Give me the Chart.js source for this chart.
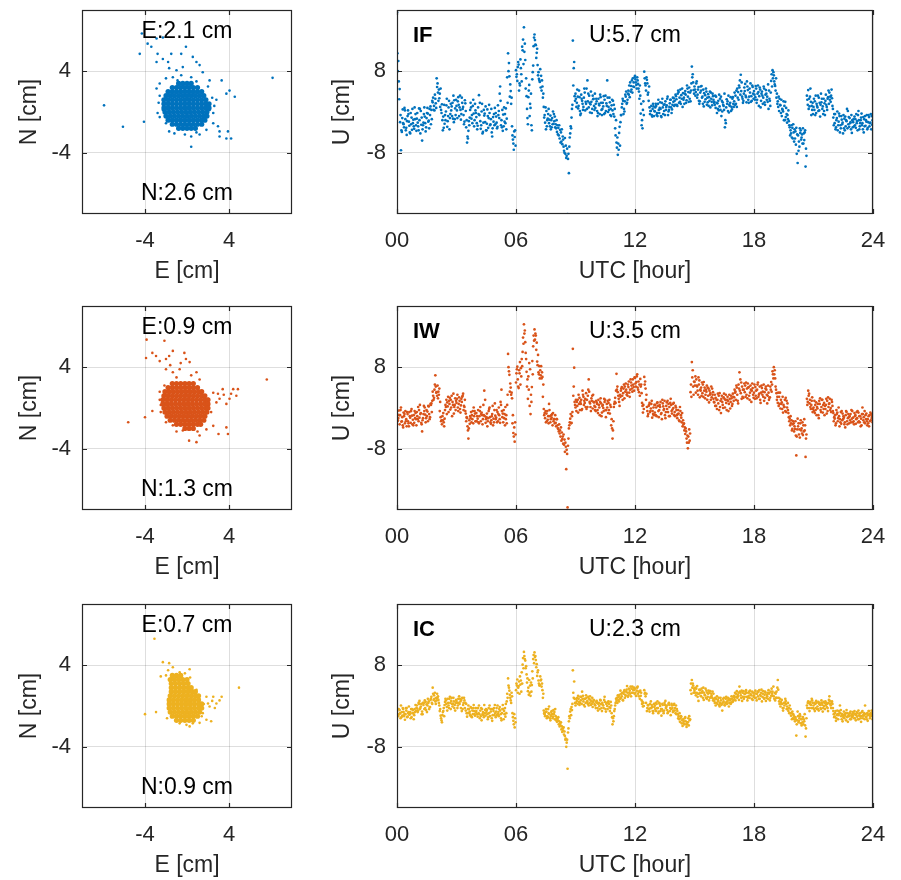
<!DOCTYPE html>
<html>
<head>
<meta charset="utf-8">
<script src="https://cdn.jsdelivr.net/npm/chart.js@4"></script>
<style>
  body { margin: 0; background: #fff; }
  #fig { position: relative; width: 901px; height: 880px; overflow: hidden; }
  #fig canvas { position: absolute; }
</style>
</head>
<body>
<div id="fig"></div>
<script>
// solutions, colours and RMS values printed in each panel
const solutions = ['IF', 'IW', 'IC'];
const colors = ['#0072BD', '#D95319', '#EDB120'];
const eRms = [2.1, 0.9, 0.7];
const nRms = [2.6, 1.3, 0.9];
const uRms = [5.7, 3.5, 2.3];

// axis ticks
const enTicks = [-4, 4];
const uTicks = [-8, 8];
const hourTicks = [0, 6, 12, 18, 24];
const samplesPerHour = 15; // each row: one value every 4 min; b and c rows fill in between

// Up component [cm], one row per hour
const upIF = [
  [19.5, 10, 4.5, -7.5, -1.2, -2.4, 0.3, -3.1, -0.8, -1.9, -4.2, -1.1, -2.2, -3.3, -0.4],
  [-1.3, -2.8, -1.6, 0.2, -5.6, -2.1, -0.9, -3.0, 0.8, -1.7, -0.6, 0.4, 1.9, 1.2, 2.6],
  [6.6, 3.8, 2.7, 4.6, 1.5, -0.9, -2.3, 0.1, -2.9, 0.9, -1.2, 0.3, 1.8, -2.0, 0.7],
  [1.2, 2.1, -0.8, 0.4, 2.8, 1.0, -1.9, 0.2, -6.0, -3.7, -1.1, 0.9, -2.2, -0.3, 1.6],
  [-1.0, -2.7, 3.3, -1.8, 0.1, -3.9, -0.7, 1.1, -2.3, -3.1, -0.2, -1.4, -4.8, -1.9, 0.8],
  [-0.9, -2.9, 0.2, 5.0, -1.6, -3.7, 0.9, -2.2, -1.3, 11.5, 7.0, 4.1, -2.8, -6.2, -4.9],
  [8.2, 6.1, 9.3, 5.2, 7.4, 12.1, 16.6, 10.2, 3.1, -2.4, 5.3, 0.8, -3.6, 9.1, 15.2],
  [13.1, 12.4, 7.8, 5.9, 7.1, 5.0, 1.0, -2.1, 0.2, -1.3, -2.2, -0.7, -3.0, 0.1, -1.8],
  [-2.4, -3.9, -3.1, -5.2, -4.0, -6.3, -6.8, -5.1, -9.0, -20, -12.0, -4.2, -1.1, 14.0, 9.8],
  [3.6, 1.8, 0.7, 2.9, -0.3, 2.2, 1.0, 3.8, 1.6, 6.2, 0.9, -0.1, 2.0, 3.2, 1.2],
  [0.8, 2.1, -0.2, 1.3, 2.9, -0.6, 1.1, 2.4, 0.2, 6.2, 1.0, 1.9, -0.8, 0.3, 1.4],
  [-3.2, -6.0, -8.4, -4.1, -2.0, 0.9, 2.2, 0.1, 3.0, 1.8, 4.2, 2.9, 5.1, 3.8, 5.8],
  [7.1, 5.3, 6.2, 4.0, 3.2, -2.6, 0.4, 7.9, 5.2, 6.3, 3.8, 0.9, 0.2, -0.9, 1.1],
  [0.1, 1.2, -0.8, 0.4, 1.9, -1.0, 0.9, 0.2, 2.1, 1.3, -0.6, 1.0, 2.4, 0.5, 2.0],
  [2.2, 3.1, 1.2, 3.9, 2.0, 3.3, 1.0, 2.8, 4.1, 2.3, 3.0, 4.8, 2.1, 8.9, 5.8],
  [5.0, 3.9, 2.8, 4.9, 2.1, 4.2, 3.0, 1.1, 3.3, 4.0, 1.9, 2.9, 0.9, 2.0, 3.1],
  [2.0, 0.8, -0.2, 2.2, 1.1, 3.0, 0.1, 1.2, -3.0, 0.9, 2.1, -0.1, 1.8, 1.0, 2.9],
  [2.1, 3.2, 1.0, 3.9, 4.8, 7.3, 3.0, 2.2, 4.1, 2.9, 5.0, 1.8, 3.8, 3.1, 4.9],
  [4.1, 2.9, 1.8, 5.2, 3.1, 0.9, 4.0, 2.8, 1.9, 4.3, 3.0, 0.6, 2.2, 6.1, 8.2],
  [7.2, 5.1, 2.8, 2.1, 0.2, 1.3, -0.8, 0.1, 1.2, -1.0, -2.1, 0.3, -3.0, -4.2, -3.1],
  [-4.0, -5.2, -3.1, -10.0, -5.8, -4.1, -5.0, -3.2, -5.5, -10.7, 3.2, 4.3, 1.1, 2.0, 0.4],
  [1.0, 2.1, -0.2, 0.9, 2.8, -0.9, 1.9, 1.1, 0.2, 2.2, 1.0, 2.9, 3.8, 2.0, 2.7],
  [-1.1, -2.2, -3.0, 0.1, -1.9, -4.0, -0.8, -2.1, -3.2, -0.9, -1.8, 0.2, -2.9, -2.0, -4.1],
  [-2.0, -0.9, -3.1, -1.8, 0.2, -2.8, -1.1, -2.2, -4.0, -0.8, -1.9, -3.1, -1.0, -2.1, -0.8]
];
const upIFb = [
  [11.5, 6.0, -2.0, -3.6, 0.5, -3.0, -1.4, -4.5, 0.3, -2.7, -0.2, -3.5, -1.5, 0.9, -2.6],
  [-0.2, -3.6, 0.6, -2.5, -3.4, -0.4, -2.2, -1.2, -0.3, -3.2, 1.1, -1.4, 2.8, 0.3, 1.7],
  [4.9, 2.2, 3.6, 0.4, -1.6, -3.1, -0.6, 1.3, -1.8, 2.2, -0.4, 1.1, -1.3, 2.3, -0.6],
  [0.3, 2.9, 0.9, -1.5, 1.8, -0.6, 2.3, -3.0, -4.8, -1.8, 0.4, -1.3, 1.2, -2.8, 0.3],
  [-2.2, 0.9, -0.6, -3.3, 1.6, -2.1, -0.3, -3.6, 0.5, -1.2, -2.6, 0.6, -3.2, -0.4, -2.4],
  [-2.1, 1.3, -1.2, 2.2, -3.0, -0.5, -1.9, 0.7, 6.8, 8.0, 3.0, 1.6, -4.6, -7.4, -3.6],
  [6.9, 8.8, 4.2, 10.3, 6.0, 14.2, 11.8, 4.6, 0.6, 2.9, -0.8, 3.6, 6.4, 12.9, 14.1],
  [10.6, 9.2, 6.5, 8.4, 4.2, 2.8, -1.1, 0.9, -2.8, -0.4, -1.5, -3.4, -1.2, -2.3, -0.9],
  [-3.2, -2.6, -4.6, -3.5, -5.8, -4.8, -7.6, -8.2, -8.6, -9.2, -6.8, -2.8, 0.6, 5.2, 3.1],
  [2.6, 4.4, 1.2, 0.2, 3.4, 1.6, 2.8, 0.3, 4.6, 2.1, 3.2, 1.5, -0.2, 2.5, 0.4],
  [1.6, 0.2, 2.6, -0.4, 1.8, 0.6, 3.1, -0.2, 1.7, 2.8, 0.4, -0.6, 1.3, 2.2, -0.9],
  [-4.6, -7.0, -6.2, -2.9, -0.6, 1.6, -0.4, 2.1, 4.0, 2.4, 3.4, 5.8, 4.4, 6.6, 4.9],
  [6.4, 4.6, 5.5, 2.6, -0.3, -1.6, 2.1, 6.6, 4.2, 5.6, 2.2, -0.4, 1.2, 0.6, -0.8],
  [0.9, -0.6, 1.6, -0.2, 0.6, 1.8, -0.4, 1.5, 0.4, 2.6, 0.1, 1.7, 0.9, 1.4, 2.7],
  [1.4, 2.5, 3.6, 1.8, 4.4, 2.6, 3.7, 1.6, 3.4, 5.2, 3.9, 2.6, 4.2, 6.8, 4.3],
  [4.4, 5.6, 3.4, 2.2, 3.8, 5.1, 1.6, 3.7, 2.5, 1.4, 3.5, 2.2, 3.8, 1.3, 2.4],
  [1.4, 3.0, 1.7, 0.3, 2.6, -0.8, 1.9, 0.4, -1.6, 2.5, 0.2, 1.4, 2.9, 0.5, 1.6],
  [3.8, 1.6, 4.6, 2.4, 6.2, 4.1, 2.6, 3.6, 5.5, 1.9, 4.3, 3.0, 5.6, 2.2, 3.6],
  [3.4, 5.1, 2.4, 3.9, 4.8, 2.2, 3.2, 5.0, 1.4, 3.6, 2.0, 4.2, 1.2, 7.4, 6.6],
  [6.0, 4.2, 3.6, 1.0, 2.6, -0.2, 0.6, 2.1, -1.6, 0.8, -0.6, -1.8, -4.6, -2.6, -5.2],
  [-5.8, -3.8, -8.2, -4.6, -6.8, -3.6, -4.4, -6.2, -4.0, -7.2, 2.4, 0.6, 3.0, -0.6, 1.8],
  [2.6, -0.6, 1.6, 3.2, 0.3, 1.4, 2.6, -0.4, 1.7, 3.4, 0.4, 4.2, 2.4, 3.2, 1.2],
  [-2.6, -0.4, -1.6, -3.6, -0.3, -2.6, -1.5, -4.2, -1.3, -2.8, 0.6, -2.4, -1.2, -3.4, -1.6],
  [-1.4, -2.6, -0.4, -3.6, -1.6, -2.2, -0.3, -3.4, -1.4, -2.7, -0.6, -2.0, -2.8, -0.4, -2.5]
];
const upIFc = [
  [8.0, 2.5, -0.6, -3.9, -2.2, 0.8, -3.6, -1.8, -0.4, -4.0, -2.4, 0.6, -2.8, -1.4, -3.7],
  [-2.1, 0.7, -4.2, -1.1, -2.6, 0.9, -3.8, -0.2, -1.9, 0.6, -2.4, 2.2, 0.4, 3.4, 0.8],
  [5.6, 4.4, 1.0, -0.2, -3.6, 1.4, -1.6, 2.6, -0.8, -3.4, 1.6, -0.8, 3.2, -1.4, 2.4],
  [-1.2, 1.4, 3.2, -0.4, 0.6, -2.4, 1.7, -1.6, -5.2, -2.6, 1.8, -0.6, 2.4, -1.6, -0.2],
  [-3.4, -0.4, 1.8, -2.6, -4.2, 0.4, -2.0, -3.6, -0.8, 1.4, -2.4, -4.0, -1.0, -2.6, -0.2],
  [-3.2, -0.6, 3.6, -2.6, 0.4, -2.8, -0.4, -3.4, 1.8, 9.6, 5.4, 2.8, -5.4, -3.8, -6.6],
  [7.4, 9.8, 5.6, 8.6, 12.8, 9.4, 13.4, 6.6, -1.2, 4.2, 1.6, -2.6, 7.8, 14.6, 13.2],
  [11.6, 7.2, 6.2, 4.8, 6.2, 3.6, -0.6, -3.4, -1.6, 0.6, -2.8, -1.6, -2.4, -0.4, -3.0],
  [-1.6, -4.4, -2.6, -6.0, -3.4, -5.4, -8.0, -6.6, -7.2, -8.2, -5.0, -3.2, 1.4, 8.6, 2.2],
  [1.0, 3.0, 4.2, -0.6, 2.6, 0.4, 4.6, 2.0, 0.6, 3.6, 1.8, 4.0, 0.6, 2.6, 3.6],
  [2.6, -0.8, 1.6, 3.4, 0.4, 1.8, -0.4, 3.2, 1.2, 0.0, 2.8, 0.6, 2.4, -0.4, 0.6],
  [-1.6, -5.0, -7.4, -6.6, -0.6, 2.6, 0.6, 3.4, 1.6, 3.6, 5.2, 4.0, 6.2, 5.0, 6.8],
  [5.8, 6.8, 4.6, 5.2, 1.6, -3.2, -0.6, 5.6, 6.8, 3.4, 5.0, 0.2, -0.6, 1.6, 0.2],
  [1.6, -0.2, 2.4, 0.8, -0.8, 2.6, 1.4, -0.6, 1.0, 3.0, 0.4, 2.4, -0.2, 2.8, 1.2],
  [3.4, 1.4, 4.2, 2.8, 1.6, 4.6, 2.4, 3.6, 1.8, 4.6, 2.0, 3.8, 5.6, 7.4, 3.6],
  [3.2, 6.0, 4.4, 1.6, 5.0, 2.8, 4.4, 2.0, 4.6, 2.8, 1.2, 4.0, 2.6, 3.6, 1.8],
  [3.2, 1.8, 0.6, 3.4, 0.4, 2.2, 1.4, 3.6, -2.2, 1.6, 3.2, 1.2, 0.2, 2.6, 1.0],
  [1.4, 4.2, 2.8, 5.2, 3.4, 5.8, 1.8, 4.8, 3.2, 6.0, 2.4, 4.6, 2.0, 5.2, 2.6],
  [2.4, 4.6, 3.6, 1.2, 4.4, 3.6, 1.6, 4.6, 3.4, 2.4, 5.4, 2.6, 3.8, 5.0, 7.8],
  [5.4, 6.6, 1.6, 3.0, 1.4, 2.4, 0.4, -1.6, 2.0, -0.4, -1.4, -2.6, -3.6, -5.0, -2.4],
  [-3.4, -6.4, -4.4, -7.6, -3.2, -5.4, -6.2, -4.2, -3.6, -8.6, 1.4, 2.6, 4.6, 1.2, -0.4],
  [0.4, 3.2, 1.2, 0.2, 1.8, 3.6, 0.6, 2.6, -0.6, 1.4, 2.6, 1.6, 3.0, 4.4, 0.6],
  [-0.4, -3.4, -1.2, -2.6, -0.8, -3.2, -2.4, -0.6, -3.6, -1.6, -3.2, -1.0, -2.2, -0.6, -3.0],
  [-2.8, -1.4, -2.2, -0.6, -3.4, -1.6, -2.6, -1.0, -2.8, -1.6, -3.4, -0.6, -2.2, -3.4, -1.6]
];
const upIW = [
  [-1.1, -2.0, -3.2, 0.1, -1.8, -0.9, -3.0, -2.2, -1.2, -3.6, -1.9, -0.2, -2.3, -2.9, -1.0],
  [-0.8, 0.2, -1.9, -1.0, -4.6, -1.2, 0.1, -2.0, -0.7, 0.3, -1.8, 0.9, 3.2, 2.0, 6.4],
  [3.1, 1.9, 3.8, -1.8, -3.2, -1.0, -2.1, 0.2, 1.1, -0.8, 2.0, 0.1, 1.2, -1.1, 1.9],
  [1.0, 0.1, 2.1, -0.9, 1.2, 2.8, 0.2, -1.1, -2.0, -6.0, -3.1, -0.8, -2.2, 0.1, -1.1],
  [-1.0, -2.1, -3.0, 0.2, -0.9, -2.2, 3.4, -2.9, -1.1, -2.0, 0.1, -3.1, -1.2, -2.1, 0.9],
  [-1.9, -0.8, 0.1, -2.9, 3.6, -1.1, -2.0, 0.2, -3.0, 10.6, 6.5, 4.0, 1.9, -4.9, -6.6],
  [5.0, 8.1, 3.9, 9.0, 6.2, 11.0, 16.4, 12.9, 7.1, 1.8, 8.8, -1.2, 4.1, 12.1, 15.4],
  [14.2, 9.1, 7.0, 5.8, 8.2, 6.1, -0.2, -2.0, -1.1, -2.3, 0.8, -2.8, -1.9, -1.0, -2.2],
  [-2.9, -2.2, -4.1, -5.0, -3.8, -6.1, -5.2, -8.6, -12.0, -19.5, -4.0, -2.1, -2.9, 11.6, 7.9],
  [0.1, 1.2, -0.9, 2.0, 0.8, -0.2, 2.2, 1.0, 2.9, 0.2, 5.6, 0.9, 1.9, -0.1, 1.1],
  [0.2, 1.1, -1.0, 0.1, 1.9, -0.9, 0.0, 1.2, -1.8, 0.1, 1.0, -1.1, -3.4, -6.0, 0.2],
  [2.0, 6.7, 3.1, 1.2, 2.2, 4.1, 2.9, 1.9, 4.8, 3.0, 4.1, 2.2, 5.0, 3.2, 4.1],
  [5.9, 5.1, 4.0, 3.1, 5.7, 2.9, -0.9, 6.1, 3.8, 0.2, -1.2, 1.0, -0.1, -1.9, 0.1],
  [-0.9, 0.1, 1.1, -1.8, 0.2, -1.0, 0.9, -0.2, -2.0, 1.1, -0.8, 0.2, 1.8, -1.1, 0.0],
  [-0.8, 0.1, -2.0, -1.1, 0.2, -1.9, -3.6, -3.0, -5.1, -6.0, -7.9, -4.2, 3.1, 9.0, 4.2],
  [5.1, 3.0, 4.2, 6.0, 2.1, 4.0, 2.9, 5.1, 1.9, 3.2, 4.0, 1.1, 2.9, 2.1, 3.1],
  [1.1, 2.0, -0.2, 0.9, 2.9, -1.0, 1.2, 2.1, 0.1, 1.0, 2.2, 0.8, -0.1, 1.9, 2.8],
  [2.1, 3.2, 4.0, 0.9, 7.0, 2.9, 4.2, 2.0, 3.1, 5.0, 1.9, 4.1, 3.0, 1.2, 3.9],
  [3.0, 4.1, 1.9, 5.0, 2.8, 1.0, 3.9, 2.2, 3.1, 4.2, 0.9, 3.0, 2.1, 5.1, 7.2],
  [8.0, 5.8, 2.9, 1.0, 2.2, -0.1, 1.1, -0.9, 0.2, 2.0, 0.1, -1.0, -2.1, -3.0, -4.1],
  [-3.0, -4.1, -9.3, -2.1, -5.2, -3.0, -4.0, -5.3, -2.2, -9.6, 1.8, 3.4, 0.9, -0.2, 2.1],
  [0.1, -1.0, 1.1, -0.1, -2.0, 1.9, 0.2, -0.9, 1.0, -0.2, -1.1, 2.1, 0.9, 0.0, 1.2],
  [-1.0, -2.1, -3.0, -0.9, 0.1, -2.2, -3.1, -1.1, -1.9, -3.8, -0.8, -2.0, -3.0, -1.2, -2.1],
  [-1.9, -1.0, -3.1, -2.0, -0.9, -2.8, -2.1, 0.1, -1.8, -3.0, -1.1, -2.2, -3.6, -0.9, -2.0]
];
const upIWb = [
  [-2.6, -0.5, -1.4, -2.7, -3.4, -1.6, -0.6, -3.6, -2.6, -0.8, -2.9, -1.5, -3.4, -0.6, -2.2],
  [-1.6, -2.6, 0.6, -2.9, -2.4, 0.4, -1.3, -0.4, -2.6, -1.2, 0.8, -0.8, 2.4, 3.6, 4.2],
  [2.4, 3.2, -0.6, -2.6, -1.6, -2.8, -0.4, 1.6, 0.3, 1.4, -0.3, 2.4, 0.6, 0.2, -0.4],
  [1.8, -0.6, 1.4, 0.5, 2.2, -0.4, 1.6, -2.6, -3.6, -4.0, -1.6, -2.8, -0.6, -1.6, -2.6],
  [-2.6, -0.4, -1.6, -2.6, -1.4, 0.6, -1.6, -2.2, -3.6, -0.6, -1.8, -2.4, 0.4, -2.8, -1.5],
  [-0.4, -2.6, -1.4, 1.2, -0.6, -2.8, -1.2, -2.2, 0.6, 8.0, 3.2, 2.6, -3.0, -5.6, -2.8],
  [6.8, 5.6, 7.4, 4.6, 9.6, 13.8, 14.6, 10.8, 4.2, 6.2, 0.4, 2.6, 9.2, 14.2, 13.4],
  [11.4, 8.4, 6.6, 7.4, 5.8, 2.2, -1.4, -0.6, -2.6, -1.6, -0.4, -2.2, -1.2, -2.6, -3.0],
  [-3.6, -3.4, -4.6, -4.4, -6.4, -5.6, -7.2, -6.8, -8.2, -7.4, -3.4, -1.2, -1.6, 2.4, 1.2],
  [1.6, 0.4, 2.6, -0.4, 1.6, 3.4, 0.6, 1.8, -0.2, 2.4, 3.2, 0.2, 1.4, 2.6, 0.4],
  [-0.6, 0.8, 1.6, -1.4, 0.9, 0.4, -0.6, 1.6, -0.4, 1.4, -0.4, 0.6, -2.2, -4.4, 0.8],
  [1.0, 3.6, 2.4, 0.4, 3.4, 2.4, 3.8, 4.2, 3.6, 2.4, 5.2, 3.6, 4.4, 5.6, 3.4],
  [4.8, 6.2, 3.6, 4.6, 4.2, 1.0, 0.6, 4.6, 1.6, -0.6, 0.4, -0.8, 0.8, -0.6, -1.4],
  [0.6, -1.6, 0.4, -0.4, 1.2, -2.2, 0.3, 1.4, -0.8, -0.2, 0.8, -1.6, 0.6, -0.3, 1.0],
  [-1.6, -0.4, -1.2, -2.4, -0.6, -2.8, -2.4, -4.4, -4.0, -6.8, -5.6, -6.4, 4.6, 6.0, 2.6],
  [4.4, 5.6, 3.4, 4.6, 3.6, 2.4, 4.6, 3.4, 2.6, 4.4, 2.4, 3.4, 1.6, 3.8, 1.8],
  [2.6, 0.4, 1.6, 2.4, 0.2, 1.8, 0.6, 2.8, 1.6, -0.4, 1.4, 2.6, 1.2, 0.4, 2.2],
  [3.6, 1.6, 2.6, 4.6, 3.4, 5.0, 2.2, 3.6, 4.4, 2.6, 4.8, 2.4, 4.4, 3.4, 2.6],
  [4.6, 2.4, 3.6, 2.2, 4.2, 3.0, 2.6, 4.6, 2.0, 3.6, 2.4, 1.6, 4.2, 3.2, 6.6],
  [6.6, 4.2, 1.6, 3.0, 0.8, 1.6, -0.2, 0.6, 1.6, -0.8, 0.9, -1.8, -3.4, -2.4, -3.2],
  [-4.6, -2.6, -5.6, -3.6, -4.2, -2.4, -5.0, -3.4, -4.4, -6.0, 0.6, 2.4, 1.6, 0.6, -0.8],
  [-0.6, 0.6, -1.4, 0.8, 1.4, -0.4, 1.6, 0.6, -1.4, 0.6, 1.4, 0.2, 1.8, -0.8, 0.4],
  [-2.6, -1.4, -0.4, -2.6, -1.6, -2.8, -0.6, -2.2, -3.2, -1.4, -2.6, -1.2, -1.6, -2.8, -0.6],
  [-2.6, -1.6, -2.2, -0.6, -2.6, -1.6, -3.4, -1.2, -2.8, -1.4, -2.6, -3.0, -1.4, -2.4, -1.6]
];
const upIWc = [
  [-2.4, -1.4, -0.4, -2.6, -3.8, -1.2, -2.6, -0.8, -3.0, -1.6, -0.6, -3.2, -1.4, -2.0, -3.4],
  [-2.2, -0.4, -1.2, -3.2, -2.0, -0.6, -2.8, -1.6, 0.4, -2.2, 0.6, 1.4, 1.6, 4.6, 3.0],
  [4.4, 2.6, 1.2, -2.4, -2.4, -3.6, 0.6, -1.2, 2.2, 0.8, 1.6, -1.6, 2.8, 0.6, 1.4],
  [2.6, 0.8, -0.2, 1.8, 2.4, 0.4, -0.6, -1.8, -4.4, -2.4, -2.0, -1.4, -3.0, -0.6, -2.6],
  [-1.6, -2.8, -0.6, -1.2, -3.2, -1.4, 1.6, -1.8, -2.6, -0.2, -2.8, -1.6, -3.4, -0.4, -2.2],
  [-2.8, -1.2, -2.2, 0.6, -1.8, -0.4, -3.4, -1.4, 2.6, 7.2, 4.8, 3.0, -1.4, -3.8, -5.2],
  [7.6, 4.2, 6.8, 7.8, 8.2, 12.6, 15.2, 9.6, 5.6, 3.6, 7.6, 1.2, 6.6, 13.2, 14.6],
  [12.8, 10.4, 8.2, 6.4, 7.0, 4.6, -1.0, -2.8, -0.6, -3.0, -1.6, -1.4, -3.4, -2.2, -1.4],
  [-2.2, -4.0, -3.2, -5.6, -4.8, -7.0, -6.2, -7.6, -9.0, -6.0, -2.8, -3.0, -0.8, 4.2, 0.6],
  [-0.6, 1.6, 0.8, 1.2, -0.4, 2.6, 1.4, 0.2, 1.6, 3.6, 1.2, -0.6, 2.4, 1.2, -0.4],
  [1.4, -0.4, 0.6, 1.2, -1.6, 0.6, 1.8, -0.4, 0.8, -1.0, 1.6, 0.2, -4.0, -2.6, 1.2],
  [3.4, 4.2, 1.8, 2.6, 3.8, 1.6, 4.6, 3.2, 2.6, 4.6, 3.0, 5.6, 3.8, 4.6, 6.0],
  [4.2, 6.6, 5.2, 2.4, 4.6, 0.4, -0.2, 5.2, 2.6, -1.6, 0.6, -0.6, 1.4, -1.2, 0.6],
  [-1.4, 1.0, -0.6, 0.6, -1.2, 1.6, -0.4, -1.4, 0.4, 1.4, -1.6, 1.0, -0.6, 0.8, -1.4],
  [0.4, -1.4, -0.4, -2.6, -1.4, -1.0, -3.2, -3.8, -4.6, -5.4, -6.8, -5.0, 2.2, 7.4, 5.2],
  [6.2, 4.4, 2.6, 5.4, 3.4, 5.0, 2.2, 4.0, 3.6, 1.6, 3.8, 2.6, 4.2, 2.6, 1.2],
  [0.4, 1.6, 2.8, -0.4, 1.4, 2.4, 0.0, 1.8, 2.6, 1.6, -0.6, 1.8, 2.4, 0.8, 1.4],
  [3.0, 4.4, 1.4, 3.8, 5.6, 1.8, 3.6, 4.8, 2.2, 3.8, 4.0, 1.6, 3.6, 4.8, 2.0],
  [1.8, 3.4, 4.6, 2.6, 1.6, 4.4, 3.2, 1.4, 3.8, 2.6, 4.4, 2.0, 3.6, 4.6, 5.8],
  [7.4, 3.6, 2.2, 0.4, 3.0, 0.8, 2.2, 0.2, -0.6, 1.4, -0.4, -2.6, -1.6, -4.4, -2.6],
  [-3.6, -5.4, -4.2, -3.0, -5.8, -4.4, -2.8, -4.6, -3.4, -5.2, 1.2, 2.8, 0.2, 1.4, -0.2],
  [1.4, -0.4, 0.2, -1.4, 0.8, -0.8, 1.6, -0.2, 0.4, 1.8, -0.6, 0.8, -0.4, 1.6, -0.6],
  [-1.8, -3.4, -1.2, -2.0, -3.6, -0.8, -2.4, -1.6, -2.8, -0.6, -3.2, -1.8, -2.4, -0.4, -2.8],
  [-3.2, -1.4, -0.8, -2.8, -1.6, -3.6, -1.2, -2.4, -0.6, -2.2, -3.4, -1.6, -2.6, -1.2, -2.8]
];
const upIC = [
  [-1.1, -2.0, -0.8, 0.1, -1.9, -1.2, -2.7, -0.9, -2.1, -0.1, -1.2, -2.2, -0.8, -1.8, 0.2],
  [0.1, -0.9, 1.0, -0.1, -1.1, 0.2, 1.1, -0.8, 0.1, 0.9, -0.2, 1.8, 3.6, 2.1, 0.9],
  [1.1, 1.9, 0.1, -1.9, -3.2, -1.0, 0.2, 1.1, -0.9, 0.1, 1.8, 1.0, -0.1, 0.9, -0.9],
  [1.0, 0.1, 1.9, 0.9, -1.0, 0.2, 1.1, -0.9, -2.1, 0.1, -1.1, -2.0, -0.9, 0.2, -1.9],
  [-1.0, -2.1, 0.1, -0.9, -2.8, -1.2, 0.2, -1.9, -0.8, -2.2, 0.1, -1.1, -2.9, -1.0, 0.2],
  [-1.1, 0.1, -2.0, -0.9, -2.8, 0.2, -1.0, -2.1, 0.9, 5.4, 3.0, 1.1, 1.9, -2.9, -4.2],
  [3.1, 5.2, 3.9, 5.8, 2.8, 8.1, 10.6, 8.9, 6.2, 2.9, 5.1, 2.0, 4.1, 9.2, 10.5],
  [9.0, 5.9, 5.0, 4.1, 5.2, 3.1, -0.9, -2.0, -1.1, -2.2, -0.1, -2.8, -1.0, -2.1, -1.2],
  [-2.0, -3.1, -2.2, -4.0, -3.2, -5.1, -4.2, -5.9, -8.0, -12.3, -3.0, -1.1, -0.2, 7.0, 4.8],
  [0.1, 1.0, 2.0, 0.2, 1.1, 2.8, 0.9, -0.1, 2.1, 1.0, 0.1, 1.9, 0.9, -0.2, 1.1],
  [0.1, 1.0, -0.9, 0.0, 1.1, -1.0, 0.1, 1.8, -1.1, 0.0, 0.9, -1.0, 0.1, -3.6, -2.0],
  [0.1, 1.0, 2.1, 0.9, 3.0, 1.9, 1.1, 3.1, 2.0, 3.9, 2.1, 3.0, 1.9, 3.8, 3.1],
  [3.4, 2.0, 3.8, 1.9, 3.0, 1.1, -0.1, 3.1, 1.9, -1.0, 0.1, -1.1, 0.9, -0.2, -1.0],
  [0.1, -1.0, 0.9, -1.1, 0.0, -1.9, 0.2, -0.9, 1.0, 0.1, -1.2, 0.2, -1.8, 0.1, -0.9],
  [-0.9, 0.1, -1.0, -2.0, -3.1, -2.1, -3.9, -3.0, -2.2, -4.1, -3.2, -2.0, 3.1, 5.1, 4.0],
  [3.0, 2.1, 3.9, 1.0, 3.1, 1.9, 2.9, 1.2, 2.1, 3.0, 1.8, 1.1, 2.9, 2.0, 1.1],
  [1.0, 0.1, 1.9, 0.9, -0.1, 1.1, -0.9, 0.9, 0.1, 1.8, 1.0, -0.1, 1.1, 1.9, 0.9],
  [2.0, 1.1, 2.9, 1.9, 3.8, 2.1, 1.0, 2.9, 1.8, 3.1, 1.1, 2.0, 3.0, 2.1, 1.2],
  [2.1, 3.0, 1.1, 1.9, 3.1, 2.0, 0.9, 2.9, 2.2, 1.0, 1.9, 3.1, 1.1, 2.0, 2.8],
  [1.9, 1.1, 2.8, 5.1, 0.9, -0.1, 1.2, -0.9, 0.1, 1.0, -0.1, -1.0, 0.1, -1.9, -1.1],
  [-1.9, -3.0, -5.8, -1.1, -2.9, -2.0, -3.8, -2.2, -3.0, -6.0, 0.1, 0.9, -1.0, 0.2, 1.1],
  [0.1, -1.0, 1.0, -0.1, -0.9, 0.2, 1.1, -1.1, 0.0, 0.9, -0.2, -1.0, 1.9, 0.1, 0.9],
  [-1.0, -2.1, -2.9, -0.9, -1.8, 0.1, -2.0, -3.0, -1.1, -1.9, -0.8, -3.1, -2.0, -1.1, -2.2],
  [-1.9, -1.0, -2.8, -2.1, -0.9, -2.0, -3.1, -1.0, -1.9, 0.1, -2.1, -2.9, -1.0, -2.0, -0.9]
];
const upICb = [
  [-1.6, -0.6, -1.4, -2.2, -0.4, -2.0, -1.6, -0.4, -1.4, -1.7, -2.4, -0.6, -1.4, -0.6, -1.0],
  [-0.5, 0.6, -0.6, 0.4, -1.6, 0.6, -0.4, 0.3, 1.4, -0.6, 1.2, 0.6, 2.4, 1.4, 0.4],
  [2.4, 1.2, -1.0, -2.4, -1.8, -0.4, 0.8, 0.4, 1.4, -0.4, 0.6, 1.6, 0.4, -0.4, 0.6],
  [0.6, 1.4, 0.4, -0.4, 1.6, 0.6, -0.4, 0.4, -1.4, -0.6, -1.8, -0.4, -1.6, -1.0, -0.4],
  [-1.6, -0.4, -1.6, -2.0, -0.6, -1.8, -1.4, -0.6, -1.6, -0.4, -2.0, -0.6, -1.8, -0.4, -1.4],
  [-0.4, -1.6, -0.6, -1.6, -1.4, -0.6, -1.6, 0.4, 2.4, 4.0, 2.2, 0.6, -1.4, -3.6, -2.4],
  [4.4, 2.6, 4.8, 4.2, 6.6, 9.4, 9.8, 7.4, 4.6, 3.6, 2.6, 4.6, 6.8, 10.0, 9.6],
  [7.6, 6.6, 4.4, 5.8, 3.8, 1.6, -1.4, -1.2, -2.4, -0.6, -1.6, -2.0, -1.6, -0.8, -2.6],
  [-2.8, -2.4, -3.6, -3.4, -4.6, -4.4, -5.6, -6.6, -7.2, -5.2, -2.0, -0.6, -0.8, 2.6, 1.4],
  [0.6, 1.6, 1.4, 0.6, 1.8, 1.4, 0.2, 1.4, 1.6, 0.4, 1.4, 1.2, 0.4, 0.8, 0.4],
  [-0.4, 0.6, 0.4, -0.6, 0.4, 0.6, -0.4, 0.8, 0.4, -0.6, 0.4, -0.4, -1.4, -2.4, -1.0],
  [0.6, 1.6, 1.2, 2.2, 1.6, 2.6, 2.4, 1.6, 2.8, 2.6, 3.4, 2.4, 3.4, 2.6, 3.6],
  [2.6, 3.0, 2.4, 2.8, 2.0, 0.4, 0.6, 2.4, 0.6, -0.4, -0.6, 0.4, -0.4, -1.0, 0.4],
  [-0.6, 0.4, -0.4, 0.6, -1.0, -0.6, -1.0, 0.6, -0.4, -0.8, 0.4, -1.0, -0.6, -0.4, 0.2],
  [-0.4, -1.6, -1.6, -2.6, -2.4, -3.4, -2.6, -3.6, -3.0, -3.6, -2.4, -2.8, 4.4, 3.6, 2.6],
  [2.6, 3.4, 1.8, 2.4, 2.6, 3.4, 1.6, 2.6, 3.4, 1.4, 2.4, 2.6, 1.8, 1.6, 2.4],
  [0.6, 1.4, 0.4, 1.6, 0.6, 0.2, 0.6, 1.6, 0.6, 0.8, 1.6, 0.6, 0.4, 1.4, 1.8],
  [1.6, 2.4, 1.6, 2.6, 2.8, 1.6, 2.6, 1.4, 2.4, 2.6, 1.6, 2.8, 2.4, 1.4, 2.6],
  [2.6, 1.6, 2.4, 2.8, 1.4, 2.6, 1.8, 1.6, 2.8, 1.6, 2.6, 2.4, 1.6, 3.4, 2.0],
  [1.4, 2.4, 1.6, 3.2, 0.4, 0.8, 0.4, -0.4, 0.6, 0.4, -0.6, -0.4, -1.4, -1.4, -2.4],
  [-2.6, -2.2, -3.6, -2.0, -2.4, -3.4, -2.6, -3.6, -1.6, -4.4, -0.4, 0.6, 0.4, -0.4, 0.6],
  [-0.6, 0.4, 0.6, -0.6, 0.4, -0.4, 0.6, -0.4, 0.6, 0.2, 0.4, 0.6, 1.0, -0.4, 0.4],
  [-1.6, -1.4, -2.4, -1.6, -1.0, -1.4, -2.6, -1.8, -2.4, -1.4, -2.2, -2.0, -1.4, -2.6, -1.6],
  [-1.4, -2.4, -1.8, -1.4, -2.6, -1.4, -2.0, -2.4, -1.4, -1.6, -2.6, -1.8, -1.6, -1.4, -2.0]
];
const upICc = [
  [-0.6, -1.6, -2.4, -1.2, -0.6, -1.6, -0.4, -2.2, -1.2, -1.6, -0.6, -1.4, -2.6, -1.2, -0.4],
  [-1.2, 0.4, -0.4, -1.6, 0.6, -0.6, 0.8, -1.2, 0.6, -0.2, 1.4, 0.4, 1.2, 2.6, 1.6],
  [1.6, 0.6, -0.6, -2.8, -1.2, -2.0, 1.4, -0.2, 0.6, 1.4, -0.6, 0.4, 1.6, 0.2, 1.2],
  [-0.4, 0.6, 1.4, 1.2, -0.6, 1.6, 0.6, -1.4, -0.6, -1.4, -0.2, -2.2, -0.4, -1.6, -1.2],
  [-0.4, -1.4, -2.4, -0.4, -1.6, -2.2, -0.8, -1.2, -2.6, -1.4, -0.6, -2.4, -0.6, -1.8, -2.2],
  [-1.8, -1.2, -0.2, -2.4, -0.6, -2.6, -0.4, -1.4, 1.6, 3.6, 1.6, 2.6, -2.2, -1.6, -3.2],
  [4.0, 3.6, 2.4, 5.0, 4.4, 7.4, 9.2, 7.8, 5.4, 2.2, 4.0, 2.8, 5.4, 8.4, 9.8],
  [8.2, 7.0, 4.0, 5.0, 4.4, 2.4, -1.6, -0.6, -2.0, -1.4, -2.4, -1.2, -2.4, -1.6, -0.6],
  [-2.4, -2.8, -3.0, -3.8, -4.0, -4.8, -5.0, -6.4, -6.6, -4.4, -2.4, -1.8, 0.4, 1.6, 0.6],
  [1.4, 0.4, 0.8, 1.8, 0.4, 2.0, 1.4, 0.6, 0.8, 1.8, 0.6, 0.2, 1.6, 1.2, 0.2],
  [0.8, -0.4, 0.6, 1.2, -0.4, 0.2, 1.2, -0.6, 0.6, 0.8, -0.2, 0.8, -2.2, -3.0, -0.6],
  [1.4, 0.6, 1.8, 1.4, 2.4, 1.2, 2.8, 2.2, 3.2, 1.8, 2.6, 3.8, 2.6, 3.2, 2.4],
  [2.0, 3.6, 2.8, 1.4, 2.6, 0.8, 0.0, 2.6, 2.4, 0.2, -0.6, -0.4, 0.2, -1.4, -0.2],
  [0.6, -0.4, -1.4, 0.4, -0.6, 0.4, -1.4, 0.2, -0.2, -1.4, 0.6, -0.4, 0.4, -1.2, 0.4],
  [-1.4, -0.6, -2.4, -1.4, -2.0, -2.8, -3.4, -2.4, -3.6, -3.2, -3.8, -2.6, 2.4, 4.4, 3.4],
  [3.6, 2.6, 2.4, 3.2, 2.0, 2.6, 3.6, 2.2, 1.6, 2.6, 3.0, 1.6, 2.4, 2.8, 1.4],
  [1.6, 0.6, 1.2, 0.2, 1.6, 0.4, 1.4, 0.2, 1.4, 0.4, 1.2, 1.4, 0.6, 0.8, 1.2],
  [2.6, 1.8, 2.2, 1.2, 2.6, 3.0, 1.8, 2.4, 2.8, 1.8, 2.6, 1.6, 2.2, 2.8, 1.8],
  [1.6, 2.4, 2.8, 1.4, 2.2, 3.2, 2.4, 1.4, 2.6, 2.2, 1.4, 2.6, 2.8, 2.4, 3.8],
  [2.6, 1.6, 3.6, 1.6, 1.4, 0.4, -0.4, 0.6, 1.4, -0.6, 0.6, -1.4, -0.6, -2.6, -1.6],
  [-2.2, -2.6, -2.8, -3.2, -1.6, -2.6, -3.2, -2.6, -3.8, -2.4, 0.6, -0.4, 0.8, 1.4, -0.4],
  [0.6, -0.4, -0.6, 0.8, 0.6, -0.6, 0.2, 0.8, -0.6, 0.6, -0.4, 1.2, 0.4, 0.6, -0.4],
  [-2.2, -1.0, -1.8, -2.6, -1.4, -0.8, -1.6, -2.2, -1.6, -2.8, -1.4, -1.8, -2.6, -1.8, -1.2],
  [-2.4, -1.6, -1.2, -2.6, -1.8, -2.4, -1.2, -1.8, -2.6, -2.2, -1.4, -1.0, -2.4, -1.8, -2.6]
];

// horizontal scatter: dense core as rows [N, [E...]], plus scattered points [E, N]
const coreIF = [
  [2.8, [-0.8, -0.4, 0.0, 0.4]],
  [2.4, [-1.4, -1.0, -0.6, -0.2, 0.2, 0.6, 1.0]],
  [2.0, [-1.8, -1.4, -1.0, -0.6, -0.2, 0.2, 0.6, 1.0, 1.4]],
  [1.6, [-2.0, -1.6, -1.2, -0.8, -0.4, 0.0, 0.4, 0.8, 1.2, 1.6]],
  [1.2, [-2.2, -1.8, -1.4, -1.0, -0.6, -0.2, 0.2, 0.6, 1.0, 1.4, 1.8]],
  [0.8, [-2.2, -1.8, -1.4, -1.0, -0.6, -0.2, 0.2, 0.6, 1.0, 1.4, 1.8, 2.1]],
  [0.4, [-2.2, -1.8, -1.4, -1.0, -0.6, -0.2, 0.2, 0.6, 1.0, 1.4, 1.8, 2.1]],
  [0.0, [-2.1, -1.7, -1.3, -0.9, -0.5, -0.1, 0.3, 0.7, 1.1, 1.5, 1.9]],
  [-0.4, [-2.0, -1.6, -1.2, -0.8, -0.4, 0.0, 0.4, 0.8, 1.2, 1.6, 1.9]],
  [-0.8, [-1.8, -1.4, -1.0, -0.6, -0.2, 0.2, 0.6, 1.0, 1.4, 1.7]],
  [-1.2, [-1.4, -1.0, -0.6, -0.2, 0.2, 0.6, 1.0, 1.4]],
  [-1.6, [-0.8, -0.4, 0.0, 0.4, 0.8]]
];
const spreadIF = [
  [-4.3, 7.7], [-3.75, 6.7], [-3.4, 6.4], [-2.9, 7.2], [-2.3, 7.3], [-4.5, 5.7], [-2.8, 5.7],
  [-2.3, 5.2], [-1.8, 4.9], [-2.9, 4.9], [-1.5, 5.7], [-0.1, 6.4], [-0.55, 5.7], [0.9, 4.9],
  [0.55, 5.4], [1.2, 4.6], [-1.7, 4.3], [-1.0, 4.1], [-0.4, 4.4], [-1.35, 3.4], [-0.55, 3.6],
  [0.4, 3.4], [1.5, 3.9], [2.15, 3.1], [3.3, 3.1], [4.05, 2.1], [4.55, 1.5], [3.75, 1.8],
  [2.8, 1.2], [2.0, 2.5], [-2.9, 2.3], [-2.6, 2.8], [-2.3, 0.2], [-2.8, -0.1], [-2.6, -0.5],
  [-2.0, -1.1], [-1.7, -1.9], [-0.55, -1.6], [0.4, -2.4], [0.4, -3.4], [1.2, -2.2],
  [1.85, -1.75], [2.5, -1.1], [2.95, -1.4], [3.1, -1.9], [3.1, -2.4], [3.75, -2.6], [4.2, -2.6],
  [3.9, -1.9], [2.15, 0.2], [2.5, -0.1], [-2.0, 3.3], [0.9, 3.0], [-0.9, 3.1],
  [-2.6, 1.6], [-2.7, 0.9], [2.4, 1.4], [2.6, 0.6], [-1.2, -2.1], [0.9, -2.0], [-0.2, -2.2],
  [8.15, 3.35], [-7.9, 0.65], [-6.1, -1.45], [-4.1, -0.95]
];
const coreIW = [
  [2.4, [-1.4, -1.0, -0.6, -0.2, 0.2, 0.6]],
  [2.0, [-1.8, -1.4, -1.0, -0.6, -0.2, 0.2, 0.6, 1.0]],
  [1.6, [-2.1, -1.7, -1.3, -0.9, -0.5, -0.1, 0.3, 0.7, 1.1, 1.4]],
  [1.2, [-2.2, -1.8, -1.4, -1.0, -0.6, -0.2, 0.2, 0.6, 1.0, 1.4, 1.7]],
  [0.8, [-2.3, -1.9, -1.5, -1.1, -0.7, -0.3, 0.1, 0.5, 0.9, 1.3, 1.7, 2.0]],
  [0.4, [-2.3, -1.9, -1.5, -1.1, -0.7, -0.3, 0.1, 0.5, 0.9, 1.3, 1.7, 2.0]],
  [0.0, [-2.2, -1.8, -1.4, -1.0, -0.6, -0.2, 0.2, 0.6, 1.0, 1.4, 1.8, 2.0]],
  [-0.4, [-2.1, -1.7, -1.3, -0.9, -0.5, -0.1, 0.3, 0.7, 1.1, 1.5, 1.9]],
  [-0.8, [-1.9, -1.5, -1.1, -0.7, -0.3, 0.1, 0.5, 0.9, 1.3, 1.7]],
  [-1.2, [-1.6, -1.2, -0.8, -0.4, 0.0, 0.4, 0.8, 1.2, 1.6]],
  [-1.6, [-1.0, -0.6, -0.2, 0.2, 0.6, 1.0, 1.3]],
  [-2.0, [-0.2, 0.2, 0.6]]
];
const spreadIW = [
  [-3.85, 6.7], [-2.15, 6.6], [-3.9, 4.9], [-3.3, 5.4], [-2.95, 5.1], [-2.6, 4.6], [-2.0, 4.8],
  [-1.35, 5.6], [-1.7, 5.1], [-0.25, 5.4], [-0.1, 4.8], [0.25, 4.5], [0.9, 3.5], [1.2, 2.8],
  [-1.35, 3.5], [-0.7, 3.8], [-2.0, 3.8], [-2.15, 2.2], [-2.6, 0.8], [-2.5, -0.4], [-2.0, -1.4],
  [-1.35, -1.7], [2.5, 1.5], [3.4, 1.85], [4.4, 1.85], [4.85, 1.85], [4.05, 0.9], [3.75, 0.4],
  [3.1, 0.9], [2.8, 0.55], [4.7, 1.2], [4.2, 1.4], [2.95, 1.4], [2.0, 0.9], [3.75, -1.9],
  [3.9, -2.55], [3.0, -2.55], [2.5, -1.75], [1.85, -2.1], [0.9, -3.35], [0.2, -3.2],
  [1.2, -2.7], [-0.4, -2.2], [-1.0, 3.0], [0.4, 3.2], [-1.6, 4.2], [-0.6, 4.4], [3.5, 1.3],
  [-2.6, 1.6], [2.3, -0.4], [1.0, -2.3], [-1.0, -2.3], [-2.5, 0.3],
  [7.6, 2.8], [-5.6, -1.4], [-4.0, -0.9], [-3.3, -0.3]
];
const coreIC = [
  [3.0, [-1.4, -1.0, -0.6]],
  [2.6, [-1.6, -1.2, -0.8, -0.4, 0.0]],
  [2.2, [-1.5, -1.1, -0.7, -0.3, 0.1]],
  [1.8, [-1.5, -1.1, -0.7, -0.3, 0.1, 0.4]],
  [1.4, [-1.5, -1.1, -0.7, -0.3, 0.1, 0.5, 0.8]],
  [1.0, [-1.6, -1.2, -0.8, -0.4, 0.0, 0.4, 0.8, 1.1]],
  [0.6, [-1.7, -1.3, -0.9, -0.5, -0.1, 0.3, 0.7, 1.1]],
  [0.2, [-1.7, -1.3, -0.9, -0.5, -0.1, 0.3, 0.7, 1.1, 1.4]],
  [-0.2, [-1.7, -1.3, -0.9, -0.5, -0.1, 0.3, 0.7, 1.1, 1.4]],
  [-0.6, [-1.6, -1.2, -0.8, -0.4, 0.0, 0.4, 0.8, 1.2]],
  [-1.0, [-1.4, -1.0, -0.6, -0.2, 0.2, 0.6, 1.0]],
  [-1.4, [-1.0, -0.6, -0.2, 0.2, 0.6]]
];
const spreadIC = [
  [-2.3, 4.3], [-1.7, 4.2], [-1.35, 3.8], [-1.8, 3.5], [0.25, 3.6], [-0.2, 3.2], [-2.5, 2.9],
  [-0.7, 3.3], [-2.0, 3.0], [0.3, 2.8], [1.2, 0.6], [1.85, 0.9], [2.5, 0.9], [3.3, 0.9],
  [3.1, 0.55], [2.8, 0.25], [2.15, -0.05], [2.65, -0.2], [1.5, -0.7], [1.85, -1.35],
  [2.3, -1.5], [1.2, -1.65], [0.25, -2.0], [-0.05, -1.85], [-0.7, -1.7], [0.55, -1.7],
  [2.0, 0.25], [0.9, 1.6], [1.6, 0.2], [2.4, 0.5], [1.4, -1.0], [-1.9, -1.2],
  [-3.1, 6.6], [4.95, 1.8], [-4.0, -0.8], [-2.95, -0.6]
];

const upSeries = [[upIF, upIFb, upIFc], [upIW, upIWb, upIWc], [upIC, upICb, upICc]];
const coreSeries = [coreIF, coreIW, coreIC];
const spreadSeries = [spreadIF, spreadIW, spreadIC];

// ---- layout ----
const rowTops = [10, 306, 604];
const plotH = 204, padTop = 10, xAxisH = 71;
const FONT = '"Liberation Sans", Arial, sans-serif';
const INK = '#262626';

// frame with inward ticks, plus the text annotations in each axes
const framePlugin = {
  id: 'frame',
  afterDatasetsDraw(chart, args, opts) {
    const { ctx, chartArea: a } = chart;
    const xs = chart.scales.x, ys = chart.scales.y;
    ctx.save();
    ctx.strokeStyle = INK;
    ctx.lineWidth = 1.2;
    ctx.beginPath();
    xs.ticks.forEach(t => {
      const p = Math.round(xs.getPixelForValue(t.value)) + 0.5;
      ctx.moveTo(p, a.bottom); ctx.lineTo(p, a.bottom - 5);
      ctx.moveTo(p, a.top); ctx.lineTo(p, a.top + 5);
    });
    ys.ticks.forEach(t => {
      const p = Math.round(ys.getPixelForValue(t.value)) + 0.5;
      ctx.moveTo(a.left, p); ctx.lineTo(a.left + 5, p);
      ctx.moveTo(a.right, p); ctx.lineTo(a.right - 5, p);
    });
    ctx.stroke();
    ctx.strokeRect(Math.round(a.left) + 0.5, Math.round(a.top) + 0.5,
                   Math.round(a.width) - 1, Math.round(a.height) - 1);
    ctx.fillStyle = '#000';
    ctx.textBaseline = 'middle';
    (opts.texts || []).forEach(t => {
      ctx.font = (t.bold ? 'bold ' : '') + t.size + 'px ' + FONT;
      ctx.textAlign = t.align;
      const x = t.align === 'left' ? a.left + t.dx : (a.left + a.right) / 2;
      const y = t.fromBottom ? a.bottom - t.dy : a.top + t.dy;
      ctx.fillText(t.text, x, y);
    });
    ctx.restore();
  }
};

function axis(min, max, tickValues, title, titlePad, fmt, fixed, isX) {
  return {
    type: 'linear', min, max,
    afterBuildTicks: s => { s.ticks = tickValues.map(v => ({ value: v })); },
    afterFit: s => {
      if (isX) s.height = fixed; else s.width = fixed;
      s.paddingTop = s.paddingBottom = s.paddingLeft = s.paddingRight = 0;
    },
    grid: { color: 'rgba(0,0,0,0.13)', lineWidth: 1, drawTicks: false },
    border: { display: false },
    ticks: {
      color: INK, padding: isX ? 14 : 11, maxRotation: 0, autoSkip: false,
      font: { family: FONT, size: 22 },
      callback: fmt
    },
    title: {
      display: true, text: title, color: INK,
      font: { family: FONT, size: 23 },
      padding: isX ? { top: 0, bottom: 0 } : { top: titlePad, bottom: 0 }
    }
  };
}

function addPanel(left, top, width, datasets, scales, rightPad, texts) {
  const c = document.createElement('canvas');
  c.width = width; c.height = padTop + plotH + xAxisH;
  c.style.left = left + 'px'; c.style.top = top + 'px';
  document.getElementById('fig').appendChild(c);
  new Chart(c.getContext('2d'), {
    type: 'scatter',
    data: { datasets },
    options: {
      responsive: false, animation: false, devicePixelRatio: 1,
      layout: { padding: { top: padTop, right: rightPad, bottom: 0, left: 0 } },
      scales,
      plugins: { legend: { display: false }, tooltip: { enabled: false }, frame: { texts } }
    },
    plugins: [framePlugin]
  });
}

window.onload = function () {
  solutions.forEach((name, i) => {
    const col = colors[i];
    const top = rowTops[i] - padTop;

    // horizontal scatter
    const core = [];
    coreSeries[i].forEach(([n, es]) => es.forEach(e => core.push({ x: e, y: n })));
    const spread = spreadSeries[i].map(([e, n]) => ({ x: e, y: n }));
    addPanel(0, top, 300, [
      { data: core, backgroundColor: col, borderWidth: 0, pointRadius: 2.6 },
      { data: spread, backgroundColor: col, borderWidth: 0, pointRadius: 1.3 }
    ], {
      x: axis(-10, 10, enTicks, 'E [cm]', 0, v => String(v), xAxisH, true),
      y: axis(-10, 10, enTicks, 'N [cm]', 16, v => String(v), 82, false)
    }, 8, [
      { text: 'E:' + eRms[i].toFixed(1) + ' cm', align: 'center', dy: 22, size: 23 },
      { text: 'N:' + nRms[i].toFixed(1) + ' cm', align: 'center', dy: 20, fromBottom: true, size: 23 }
    ]);

    // up time series: interleaved sample sets per hour
    const pts = [];
    const sets = upSeries[i];
    sets.forEach((rows, s) => rows.forEach((row, h) => row.forEach((u, k) =>
      pts.push({ x: h + (k + s / sets.length) / samplesPerHour, y: u }))));
    addPanel(300, top, 590, [
      { data: pts, backgroundColor: col, borderWidth: 0, pointRadius: 1.35 }
    ], {
      x: axis(0, 24, hourTicks, 'UTC [hour]', 0, v => String(v).padStart(2, '0'), xAxisH, true),
      y: axis(-20, 20, uTicks, 'U [cm]', 29, v => String(v), 97, false)
    }, 17, [
      { text: name, align: 'left', dx: 16, dy: 26, size: 22, bold: true },
      { text: 'U:' + uRms[i].toFixed(1) + ' cm', align: 'center', dy: 26, size: 23 }
    ]);
  });
};
</script>
</body>
</html>
